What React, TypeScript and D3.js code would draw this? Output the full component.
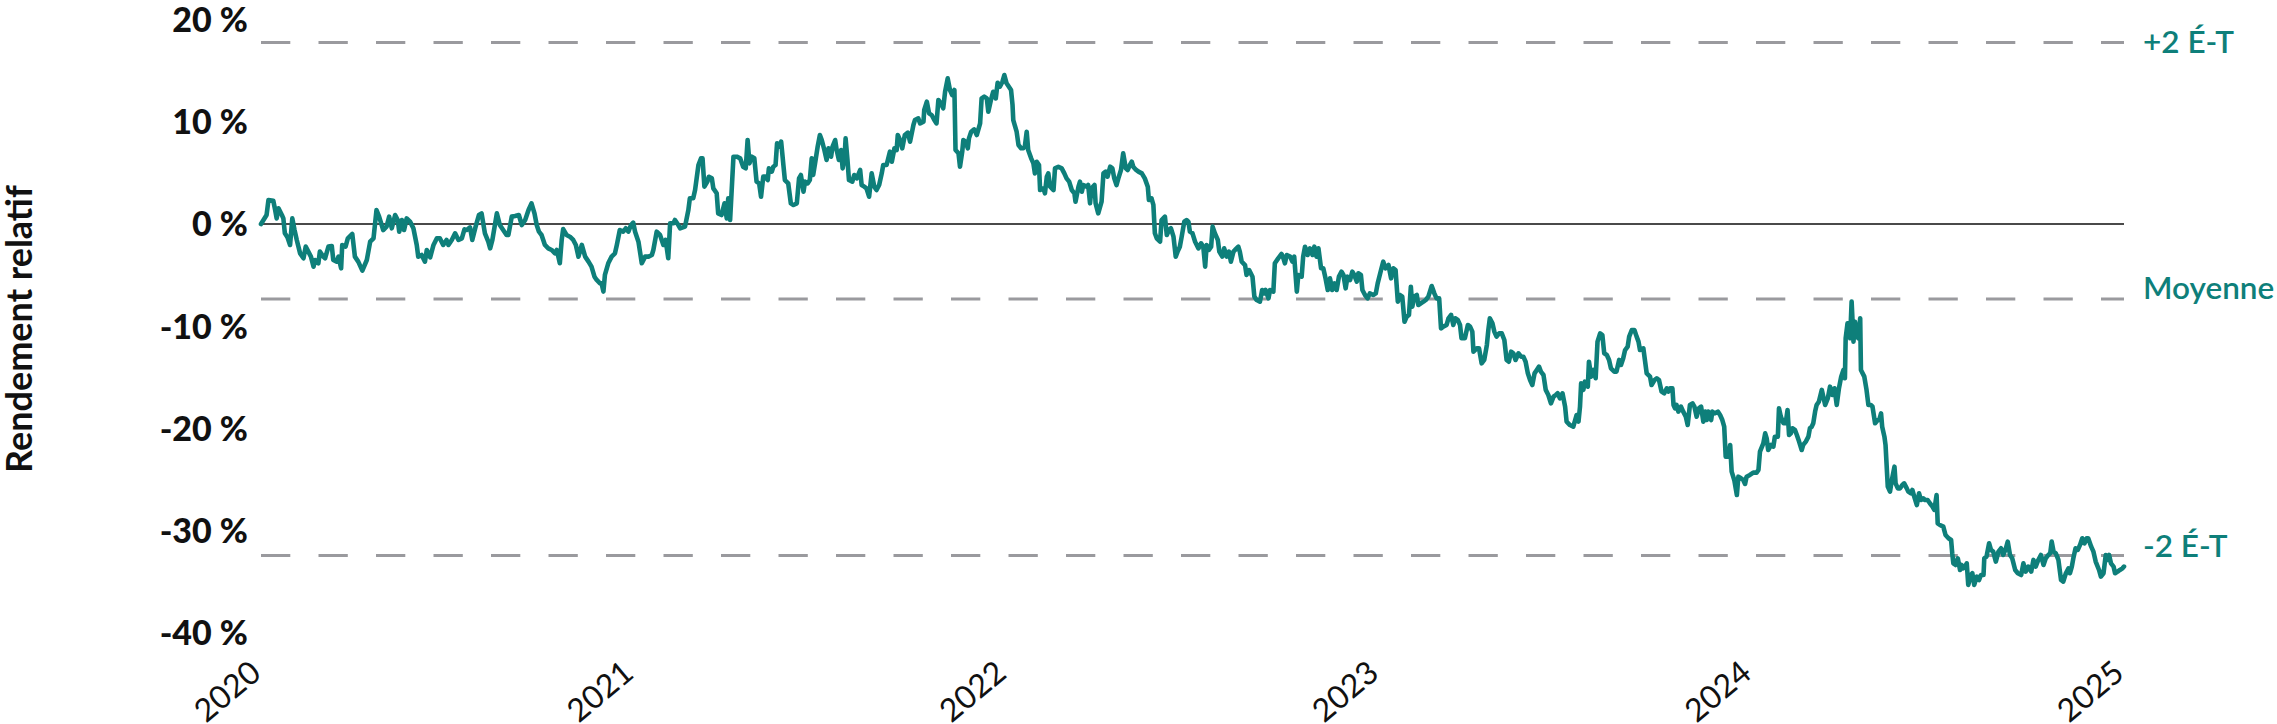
import React from "react";
import * as d3 from "d3";

// Relative return (%) — [decimal year, value]
const relativeReturn2020: [number, number][] = [[2020.000,0.00],[2020.015,0.88],[2020.020,2.35],[2020.033,2.28],[2020.038,1.37],[2020.042,0.55],[2020.047,1.53],[2020.056,0.88],[2020.060,0.55],[2020.064,-0.91],[2020.071,-1.30],[2020.078,-2.05],[2020.084,0.55],[2020.090,-0.59],[2020.096,-1.56],[2020.105,-2.87],[2020.114,-3.35],[2020.120,-2.21],[2020.127,-2.70],[2020.134,-3.19],[2020.141,-4.17],[2020.145,-3.52],[2020.154,-3.84],[2020.158,-2.70],[2020.167,-3.19],[2020.172,-3.35],[2020.181,-2.21],[2020.190,-2.15],[2020.194,-3.52],[2020.203,-3.68],[2020.208,-3.19],[2020.215,-4.33],[2020.218,-2.05],[2020.227,-2.21],[2020.233,-1.40],[2020.245,-0.98],[2020.252,-3.19],[2020.261,-3.68],[2020.272,-4.56],[2020.284,-3.52],[2020.293,-1.73],[2020.302,-1.40],[2020.310,1.37],[2020.317,0.72],[2020.328,-0.59],[2020.337,-0.26],[2020.344,0.72],[2020.351,-0.42],[2020.360,0.88],[2020.367,0.39],[2020.371,-0.75],[2020.378,0.39],[2020.384,-0.59],[2020.391,0.55],[2020.400,0.23],[2020.409,-0.42],[2020.418,-2.05],[2020.422,-3.19],[2020.431,-3.03],[2020.440,-3.68],[2020.445,-2.54],[2020.454,-3.26],[2020.463,-2.05],[2020.472,-1.40],[2020.480,-1.40],[2020.489,-2.05],[2020.498,-1.56],[2020.503,-2.05],[2020.512,-1.56],[2020.521,-0.91],[2020.530,-1.56],[2020.539,-1.40],[2020.546,-0.52],[2020.552,-0.59],[2020.561,-0.33],[2020.567,-1.56],[2020.576,-0.26],[2020.585,0.88],[2020.592,1.04],[2020.601,-0.91],[2020.610,-1.73],[2020.615,-2.38],[2020.621,-1.56],[2020.633,1.04],[2020.641,-0.10],[2020.650,-0.59],[2020.659,-1.07],[2020.664,-1.07],[2020.673,0.72],[2020.682,0.78],[2020.692,0.88],[2020.700,-0.10],[2020.709,0.39],[2020.718,1.37],[2020.726,2.02],[2020.734,1.04],[2020.740,-0.10],[2020.746,-0.75],[2020.753,-1.07],[2020.762,-2.05],[2020.771,-2.38],[2020.780,-2.54],[2020.789,-2.87],[2020.794,-2.54],[2020.802,-3.84],[2020.807,-1.56],[2020.811,-0.49],[2020.820,-1.07],[2020.829,-1.24],[2020.838,-1.56],[2020.845,-2.05],[2020.852,-3.19],[2020.861,-2.05],[2020.870,-3.19],[2020.879,-3.68],[2020.887,-4.17],[2020.895,-5.15],[2020.901,-5.47],[2020.910,-5.80],[2020.914,-5.80],[2020.919,-6.61],[2020.923,-4.98],[2020.932,-3.84],[2020.941,-3.19],[2020.950,-2.87],[2020.955,-2.05],[2020.963,-0.59],[2020.972,-0.75],[2020.979,-0.42],[2020.986,-0.75],[2020.993,-0.10],[2020.999,0.13]];

const relativeReturn2021: [number, number][] = [[2021.004,-0.75],[2021.013,-1.73],[2021.022,-3.84],[2021.031,-3.19],[2021.040,-3.19],[2021.049,-3.03],[2021.053,-2.54],[2021.062,-0.75],[2021.071,-1.07],[2021.080,-2.05],[2021.086,-1.56],[2021.093,-3.35],[2021.098,0.07],[2021.107,0.07],[2021.111,0.39],[2021.120,-0.10],[2021.125,-0.42],[2021.138,-0.26],[2021.147,1.37],[2021.151,2.51],[2021.160,2.51],[2021.165,3.32],[2021.174,5.76],[2021.181,6.42],[2021.185,6.42],[2021.190,3.65],[2021.198,4.14],[2021.202,4.62],[2021.210,4.46],[2021.214,3.48],[2021.223,3.00],[2021.227,1.04],[2021.236,0.88],[2021.244,2.02],[2021.250,0.55],[2021.254,2.51],[2021.259,0.39],[2021.268,6.58],[2021.277,6.58],[2021.286,6.42],[2021.294,5.60],[2021.301,5.44],[2021.306,8.21],[2021.311,5.93],[2021.317,6.58],[2021.324,6.42],[2021.330,4.14],[2021.337,3.97],[2021.342,2.67],[2021.348,4.63],[2021.354,4.63],[2021.360,4.30],[2021.363,5.44],[2021.371,5.12],[2021.375,5.60],[2021.381,5.77],[2021.385,7.88],[2021.390,7.56],[2021.396,8.05],[2021.402,5.77],[2021.406,4.30],[2021.415,3.97],[2021.422,2.02],[2021.429,1.86],[2021.438,2.02],[2021.444,4.46],[2021.449,4.79],[2021.456,3.16],[2021.460,4.14],[2021.467,3.97],[2021.473,4.30],[2021.478,6.42],[2021.482,4.79],[2021.487,5.93],[2021.494,7.56],[2021.500,8.70],[2021.505,8.21],[2021.512,7.23],[2021.518,6.26],[2021.523,7.40],[2021.530,6.58],[2021.534,7.56],[2021.541,8.21],[2021.545,7.23],[2021.551,6.26],[2021.557,7.23],[2021.561,5.44],[2021.566,6.42],[2021.569,8.37],[2021.574,6.26],[2021.578,4.30],[2021.587,4.14],[2021.592,4.79],[2021.599,4.46],[2021.608,5.28],[2021.612,3.81],[2021.619,3.65],[2021.625,3.49],[2021.632,2.67],[2021.639,4.95],[2021.646,3.65],[2021.652,3.32],[2021.659,3.81],[2021.666,4.95],[2021.670,5.77],[2021.679,5.77],[2021.688,7.07],[2021.693,6.09],[2021.700,7.40],[2021.706,7.23],[2021.709,8.70],[2021.715,8.21],[2021.721,7.40],[2021.728,8.70],[2021.736,8.93],[2021.742,8.05],[2021.751,9.68],[2021.755,10.16],[2021.764,10.33],[2021.769,9.84],[2021.778,10.00],[2021.780,11.14],[2021.787,11.96],[2021.793,10.82],[2021.800,10.65],[2021.807,10.16],[2021.813,9.84],[2021.818,12.12],[2021.825,11.79],[2021.831,11.31],[2021.836,12.93],[2021.843,14.24],[2021.849,13.10],[2021.855,12.61],[2021.861,13.10],[2021.864,7.23],[2021.872,6.91],[2021.876,5.60],[2021.882,7.07],[2021.885,8.21],[2021.891,8.05],[2021.897,7.40],[2021.900,8.37],[2021.906,9.02],[2021.914,9.25],[2021.921,8.70],[2021.930,9.84],[2021.934,12.28],[2021.941,12.45],[2021.948,12.28],[2021.952,10.98],[2021.959,12.12],[2021.965,12.93],[2021.972,12.28],[2021.977,13.81],[2021.983,13.42],[2021.990,13.91],[2021.995,14.56]];

const relativeReturn2022: [number, number][] = [[2022.001,13.75],[2022.013,13.10],[2022.017,11.63],[2022.019,10.16],[2022.028,9.02],[2022.033,7.72],[2022.040,7.40],[2022.046,7.40],[2022.050,7.56],[2022.055,9.02],[2022.059,7.23],[2022.067,6.42],[2022.073,5.93],[2022.077,4.95],[2022.082,6.09],[2022.088,5.77],[2022.091,3.32],[2022.100,3.49],[2022.104,3.00],[2022.109,4.63],[2022.113,4.95],[2022.118,3.65],[2022.127,3.32],[2022.131,5.44],[2022.140,5.60],[2022.149,5.44],[2022.156,4.95],[2022.162,4.46],[2022.169,4.14],[2022.176,3.32],[2022.183,3.00],[2022.186,2.18],[2022.194,3.65],[2022.198,4.14],[2022.203,3.16],[2022.207,3.81],[2022.216,3.65],[2022.220,3.81],[2022.225,2.02],[2022.229,3.49],[2022.237,3.81],[2022.240,2.02],[2022.247,1.04],[2022.256,2.18],[2022.261,4.95],[2022.267,5.12],[2022.272,4.63],[2022.279,5.60],[2022.285,5.44],[2022.290,4.46],[2022.296,3.81],[2022.301,4.46],[2022.308,5.28],[2022.314,6.91],[2022.321,5.44],[2022.326,5.28],[2022.332,5.77],[2022.337,6.09],[2022.341,5.60],[2022.347,5.34],[2022.355,5.12],[2022.364,4.95],[2022.372,4.46],[2022.380,3.65],[2022.383,2.35],[2022.390,2.51],[2022.395,1.86],[2022.399,-0.91],[2022.404,-1.40],[2022.413,-1.73],[2022.417,0.39],[2022.426,0.72],[2022.431,-1.08],[2022.437,-0.59],[2022.442,-0.42],[2022.449,-1.24],[2022.455,-3.19],[2022.460,-2.70],[2022.466,-2.22],[2022.471,-1.24],[2022.478,0.23],[2022.484,0.39],[2022.489,0.23],[2022.493,-0.75],[2022.500,-0.91],[2022.507,-1.73],[2022.516,-2.38],[2022.523,-1.89],[2022.529,-2.22],[2022.534,-4.17],[2022.538,-2.05],[2022.544,-2.54],[2022.550,-2.22],[2022.554,-0.26],[2022.560,-0.91],[2022.568,-1.56],[2022.572,-2.70],[2022.580,-3.19],[2022.585,-2.38],[2022.592,-3.19],[2022.598,-2.70],[2022.603,-3.68],[2022.610,-2.70],[2022.614,-2.54],[2022.623,-2.22],[2022.627,-2.70],[2022.632,-3.68],[2022.641,-4.01],[2022.645,-4.98],[2022.652,-4.50],[2022.661,-5.15],[2022.666,-7.10],[2022.672,-7.43],[2022.681,-7.59],[2022.687,-6.45],[2022.693,-6.78],[2022.696,-6.45],[2022.704,-7.27],[2022.708,-6.45],[2022.717,-6.61],[2022.721,-3.84],[2022.730,-3.36],[2022.739,-2.93],[2022.744,-3.36],[2022.748,-3.84],[2022.753,-3.03],[2022.762,-3.19],[2022.768,-3.68],[2022.773,-3.19],[2022.780,-6.61],[2022.784,-4.98],[2022.793,-5.15],[2022.797,-3.19],[2022.802,-2.22],[2022.809,-3.03],[2022.815,-2.38],[2022.822,-3.03],[2022.827,-2.22],[2022.833,-3.19],[2022.838,-2.38],[2022.845,-4.33],[2022.851,-4.33],[2022.857,-5.31],[2022.863,-6.45],[2022.869,-5.31],[2022.875,-6.45],[2022.881,-5.80],[2022.887,-6.45],[2022.893,-5.15],[2022.900,-4.66],[2022.905,-4.98],[2022.911,-6.29],[2022.916,-5.15],[2022.923,-5.47],[2022.929,-4.66],[2022.934,-4.98],[2022.941,-5.64],[2022.945,-4.82],[2022.952,-4.98],[2022.956,-6.45],[2022.963,-6.94],[2022.970,-7.27],[2022.976,-6.78],[2022.985,-6.94],[2022.992,-6.78],[2022.997,-5.80]];

const relativeReturn2023: [number, number][] = [[2023.006,-4.50],[2023.012,-3.68],[2023.018,-4.33],[2023.026,-4.01],[2023.033,-5.31],[2023.039,-4.33],[2023.045,-4.50],[2023.051,-7.59],[2023.057,-6.94],[2023.063,-7.10],[2023.069,-9.55],[2023.075,-9.06],[2023.081,-8.89],[2023.086,-6.13],[2023.090,-8.08],[2023.095,-7.10],[2023.102,-6.94],[2023.106,-7.92],[2023.113,-7.75],[2023.120,-7.59],[2023.126,-7.43],[2023.133,-7.10],[2023.142,-6.06],[2023.149,-6.78],[2023.155,-7.27],[2023.162,-7.27],[2023.167,-10.20],[2023.173,-10.03],[2023.182,-9.87],[2023.187,-9.22],[2023.194,-8.89],[2023.200,-9.87],[2023.205,-9.22],[2023.212,-9.38],[2023.218,-9.87],[2023.222,-11.17],[2023.231,-11.17],[2023.239,-9.87],[2023.245,-10.03],[2023.251,-10.52],[2023.254,-12.48],[2023.263,-12.15],[2023.269,-12.15],[2023.276,-13.62],[2023.283,-13.29],[2023.290,-11.83],[2023.294,-10.36],[2023.298,-9.22],[2023.305,-9.71],[2023.310,-10.52],[2023.316,-11.01],[2023.323,-10.69],[2023.330,-10.69],[2023.337,-11.34],[2023.343,-13.29],[2023.349,-13.46],[2023.355,-12.48],[2023.361,-12.64],[2023.367,-13.29],[2023.375,-12.64],[2023.382,-12.97],[2023.388,-12.97],[2023.394,-13.46],[2023.400,-14.60],[2023.406,-15.25],[2023.412,-15.74],[2023.418,-14.60],[2023.424,-14.27],[2023.430,-13.94],[2023.435,-14.43],[2023.442,-14.76],[2023.448,-16.22],[2023.455,-16.71],[2023.462,-17.53],[2023.469,-16.88],[2023.475,-16.71],[2023.480,-16.55],[2023.486,-17.04],[2023.493,-16.55],[2023.500,-17.85],[2023.504,-19.32],[2023.513,-19.65],[2023.522,-19.81],[2023.527,-19.16],[2023.531,-18.67],[2023.536,-19.32],[2023.540,-17.85],[2023.543,-15.57],[2023.549,-16.22],[2023.553,-15.41],[2023.561,-15.90],[2023.564,-13.46],[2023.570,-14.92],[2023.576,-14.27],[2023.582,-15.08],[2023.587,-11.50],[2023.594,-10.69],[2023.600,-10.85],[2023.605,-12.64],[2023.612,-12.80],[2023.618,-13.29],[2023.623,-14.11],[2023.632,-14.43],[2023.638,-14.43],[2023.645,-13.29],[2023.650,-13.78],[2023.656,-13.13],[2023.661,-12.32],[2023.668,-11.99],[2023.672,-11.01],[2023.679,-10.36],[2023.686,-10.36],[2023.692,-11.01],[2023.697,-11.50],[2023.701,-12.32],[2023.710,-12.15],[2023.719,-14.60],[2023.728,-14.92],[2023.732,-15.74],[2023.740,-15.25],[2023.746,-15.08],[2023.752,-15.25],[2023.759,-16.39],[2023.766,-16.55],[2023.773,-16.06],[2023.777,-16.39],[2023.782,-16.06],[2023.788,-16.06],[2023.791,-17.69],[2023.795,-18.02],[2023.799,-17.69],[2023.804,-18.34],[2023.811,-17.85],[2023.817,-18.34],[2023.824,-18.83],[2023.829,-19.65],[2023.835,-17.69],[2023.842,-17.53],[2023.847,-17.85],[2023.853,-18.83],[2023.859,-18.02],[2023.865,-17.85],[2023.871,-19.32],[2023.876,-18.34],[2023.880,-19.16],[2023.884,-18.34],[2023.892,-19.16],[2023.895,-18.34],[2023.902,-18.51],[2023.910,-18.34],[2023.916,-18.67],[2023.922,-19.16],[2023.927,-19.81],[2023.931,-22.74],[2023.938,-22.74],[2023.943,-21.60],[2023.947,-24.21],[2023.954,-25.02],[2023.961,-26.49],[2023.965,-24.70],[2023.972,-24.86],[2023.978,-25.02],[2023.983,-25.41],[2023.987,-24.70],[2023.996,-24.53]];

const relativeReturn2024: [number, number][] = [[2024.005,-24.30],[2024.014,-24.30],[2024.019,-24.04],[2024.023,-22.25],[2024.032,-21.44],[2024.037,-20.46],[2024.041,-20.95],[2024.045,-22.09],[2024.053,-21.60],[2024.059,-21.76],[2024.063,-20.79],[2024.071,-20.79],[2024.074,-18.02],[2024.079,-18.83],[2024.086,-19.48],[2024.092,-19.48],[2024.097,-18.18],[2024.101,-20.62],[2024.106,-20.46],[2024.110,-19.97],[2024.117,-20.13],[2024.122,-20.62],[2024.128,-21.27],[2024.135,-22.09],[2024.139,-21.60],[2024.146,-21.27],[2024.153,-20.79],[2024.157,-19.97],[2024.162,-19.81],[2024.166,-19.48],[2024.171,-18.34],[2024.175,-17.69],[2024.181,-17.37],[2024.189,-16.22],[2024.193,-16.88],[2024.198,-17.69],[2024.205,-17.04],[2024.211,-15.90],[2024.217,-16.71],[2024.223,-16.06],[2024.229,-17.69],[2024.235,-16.06],[2024.241,-14.92],[2024.247,-14.27],[2024.251,-15.08],[2024.253,-11.17],[2024.258,-9.71],[2024.265,-11.17],[2024.269,-7.59],[2024.274,-11.50],[2024.278,-9.55],[2024.283,-11.01],[2024.287,-11.17],[2024.292,-9.22],[2024.294,-14.27],[2024.303,-14.92],[2024.309,-16.22],[2024.314,-17.69],[2024.321,-17.69],[2024.325,-17.85],[2024.332,-19.48],[2024.339,-19.16],[2024.343,-19.16],[2024.348,-18.51],[2024.351,-19.81],[2024.357,-20.79],[2024.360,-21.60],[2024.366,-25.67],[2024.372,-26.16],[2024.377,-25.02],[2024.384,-23.72],[2024.387,-25.35],[2024.393,-25.84],[2024.399,-25.84],[2024.405,-25.51],[2024.410,-25.35],[2024.417,-25.84],[2024.421,-26.16],[2024.428,-26.32],[2024.432,-26.00],[2024.437,-26.65],[2024.444,-27.47],[2024.450,-26.32],[2024.455,-26.98],[2024.461,-26.81],[2024.466,-26.98],[2024.473,-26.98],[2024.479,-27.30],[2024.486,-27.63],[2024.491,-27.95],[2024.497,-26.49],[2024.500,-29.26],[2024.506,-29.42],[2024.515,-29.58],[2024.521,-30.40],[2024.529,-30.72],[2024.536,-30.89],[2024.539,-32.19],[2024.542,-33.17],[2024.548,-33.33],[2024.554,-32.68],[2024.560,-33.82],[2024.564,-33.33],[2024.569,-33.66],[2024.573,-33.49],[2024.578,-33.17],[2024.582,-35.28],[2024.589,-34.31],[2024.593,-34.14],[2024.598,-35.28],[2024.605,-34.47],[2024.611,-34.80],[2024.616,-34.31],[2024.623,-34.31],[2024.625,-32.68],[2024.631,-32.52],[2024.638,-31.21],[2024.643,-31.86],[2024.649,-32.03],[2024.656,-33.00],[2024.663,-32.03],[2024.670,-31.70],[2024.676,-32.35],[2024.683,-31.70],[2024.688,-31.05],[2024.694,-32.35],[2024.700,-32.68],[2024.708,-33.82],[2024.715,-34.14],[2024.724,-34.31],[2024.730,-33.17],[2024.736,-33.98],[2024.743,-33.49],[2024.751,-33.98],[2024.757,-32.84],[2024.763,-33.49],[2024.770,-32.84],[2024.777,-32.35],[2024.784,-33.33],[2024.790,-32.68],[2024.797,-32.35],[2024.802,-32.19],[2024.806,-31.05],[2024.811,-32.03],[2024.817,-32.19],[2024.824,-32.84],[2024.831,-34.80],[2024.837,-34.96],[2024.844,-34.14],[2024.851,-33.66],[2024.855,-34.14],[2024.860,-33.49],[2024.864,-32.68],[2024.870,-31.70],[2024.876,-31.86],[2024.882,-31.37],[2024.888,-30.72],[2024.894,-31.21],[2024.900,-30.72],[2024.904,-30.72],[2024.912,-31.54],[2024.918,-32.03],[2024.924,-33.00],[2024.933,-33.82],[2024.938,-34.47],[2024.945,-34.14],[2024.951,-32.35],[2024.956,-32.84],[2024.960,-32.35],[2024.965,-33.17],[2024.972,-33.49],[2024.976,-34.14],[2024.983,-33.98],[2024.989,-33.82],[2024.996,-33.66],[2025.000,-33.49]];

// Statistics of the series
const meanReturn = -7.33;
const stdDev = 12.54;

const yTicks = [20, 10, 0, -10, -20, -30, -40];
const xTicks = [2020, 2021, 2022, 2023, 2024, 2025];
const bandLabels = ["+2 É-T", "Moyenne", "-2 É-T"];
const yTitle = "Rendement relatif";

const TEAL = "#0e7f7a";
const W = 2277;
const H = 724;

export default function App() {
  const series = [
    ...relativeReturn2020,
    ...relativeReturn2021,
    ...relativeReturn2022,
    ...relativeReturn2023,
    ...relativeReturn2024,
  ];
  const x = d3.scaleLinear().domain([2020, 2025]).range([261, 2124]);
  const y = d3.scaleLinear().domain([-40, 20]).range([633.2, 19.4]);
  const line = d3
    .line<[number, number]>()
    .x((d) => x(d[0]))
    .y((d) => y(d[1]));

  const bands = [meanReturn + 2 * stdDev, meanReturn, meanReturn - 2 * stdDev];
  const labelOffsets = [11, 0.5, 1];
  const [x0, x1] = x.range();

  return (
    <svg
      width={W}
      height={H}
      style={{ position: "absolute", left: 0, top: 0, background: "#fff" }}
      fontFamily="Lato, 'Noto Sans', sans-serif"
    >
      {/* y tick labels */}
      {yTicks.map((t) => (
        <text
          key={t}
          x={248}
          y={y(t)}
          dy="0.36em"
          textAnchor="end"
          fontSize={34}
          fontWeight={900}
          fill="#111"
        >
          {`${t} %`}
        </text>
      ))}
      {/* y title */}
      <text
        transform={`translate(32, 329) rotate(-90)`}
        textAnchor="middle"
        fontSize={36}
        fontWeight={700}
        fill="#111"
      >
        {yTitle}
      </text>
      {/* x tick labels */}
      {xTicks.map((t) => (
        <text
          key={t}
          transform={`translate(${x(t) + 2}, 676) rotate(-40)`}
          textAnchor="end"
          fontSize={32}
          fill="#111"
        >
          {t}
        </text>
      ))}
      {/* band lines */}
      {bands.map((b, i) => (
        <line
          key={i}
          x1={x0}
          x2={x1}
          y1={y(b)}
          y2={y(b)}
          stroke="#9a9a9e"
          strokeWidth={3}
          strokeDasharray="29.3 28.2"
        />
      ))}
      {/* zero line */}
      <line x1={x0} x2={x1} y1={y(0)} y2={y(0)} stroke="#4a4a4a" strokeWidth={2} />
      {/* series */}
      <path
        d={line(series) || ""}
        fill="none"
        stroke={TEAL}
        strokeWidth={4.6}
        strokeLinejoin="round"
        strokeLinecap="round"
      />
      {/* band labels */}
      {bands.map((b, i) => (
        <text
          key={i}
          x={2143}
          y={y(b) + labelOffsets[i]}
          fontSize={31.5}
          fontWeight={600}
          fill={TEAL}
        >
          {bandLabels[i]}
        </text>
      ))}
    </svg>
  );
}
